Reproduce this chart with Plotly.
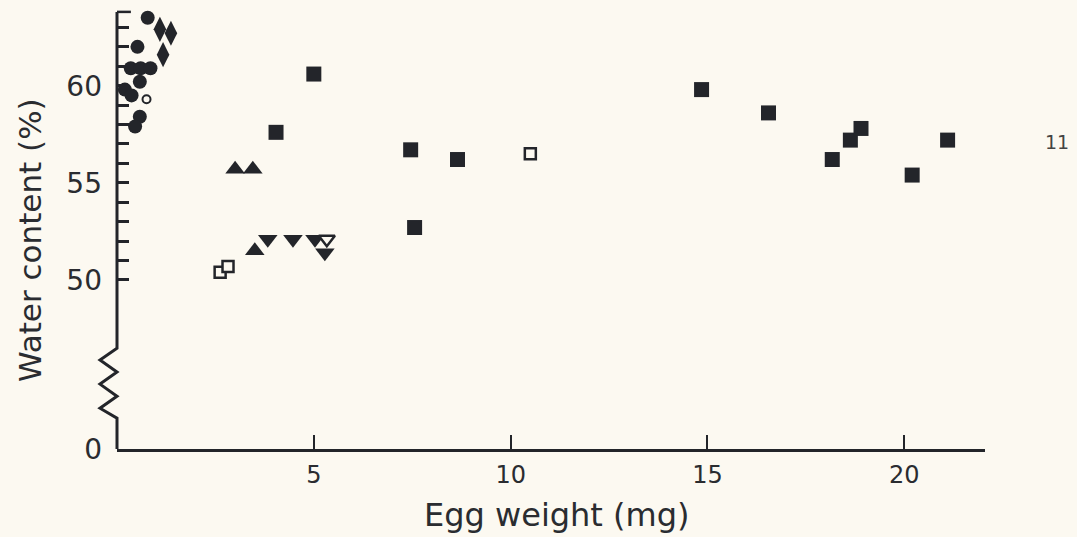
import plotly.graph_objects as go

# ---- data (egg weight mg, water content %) ----
circ_x = [0.78, 0.52, 0.35, 0.60, 0.85, 0.58, 0.20, 0.37, 0.58, 0.46]
circ_y = [63.5, 62.0, 60.9, 60.9, 60.9, 60.2, 59.8, 59.5, 58.4, 57.9]
circo_x = [0.75]
circo_y = [59.3]
diam_x = [1.09, 1.37, 1.17]
diam_y = [62.9, 62.7, 61.6]
triu_x = [3.00, 3.45, 3.50]
triu_y = [55.7, 55.7, 51.5]
trid_x = [3.83, 4.47, 5.03, 5.28]
trid_y = [52.1, 52.1, 52.1, 51.4]
trido_x = [5.33]
trido_y = [52.1]
sq_x = [5.00, 4.04, 7.46, 8.65, 7.56, 14.85, 16.55, 18.17, 18.63, 18.90, 20.20, 21.10]
sq_y = [60.6, 57.6, 56.7, 56.2, 52.7, 59.8, 58.6, 56.2, 57.2, 57.8, 55.4, 57.2]
sqo_x = [2.62, 2.82, 10.50]
sqo_y = [50.4, 50.7, 56.5]

y_ticks = [41.3, 50, 51, 52, 53, 54, 55, 56, 57, 58, 59, 60, 61, 62, 63]
y_labels = ["0", "50", "", "", "", "", "55", "", "", "", "", "60", "", "", ""]
x_ticks = [5, 10, 15, 20]
x_labels = ["5", "10", "15", "20"]

INK = "#23252a"
BG = "#fcf9f1"
TXT = "#2a2c30"

fig = go.Figure()

def add(x, y, symbol, size, filled=True, lw=0):
    fig.add_trace(go.Scatter(
        x=x, y=y, mode="markers", showlegend=False,
        marker=dict(symbol=symbol, size=size,
                    color=INK if filled else BG,
                    line=dict(color=INK, width=lw))))

add(circ_x, circ_y, "circle", 14)
add(diam_x, diam_y, "diamond-tall", 18)
add(triu_x, triu_y, "triangle-up", 17)
add(trid_x, trid_y, "triangle-down", 17)
add(trido_x, trido_y, "triangle-down", 14, filled=False, lw=2.5)
add(sq_x, sq_y, "square", 15)
add(sqo_x, sqo_y, "square", 11, filled=False, lw=2.5)
add(circo_x, circo_y, "circle", 8, filled=False, lw=2)

# y axis line with break (zigzag)
zx_l = -17 / 868
path = (f"M 0,63.8 L 0,46.49 L {zx_l},45.88 L 0,45.26 L {zx_l},44.64 "
        f"L 0,44.02 L {zx_l},43.40 L 0,42.89 L 0,41.25")
fig.add_shape(type="path", path=path, xref="paper", yref="y",
              line=dict(color=INK, width=3))
fig.add_shape(type="line", xref="paper", yref="y", x0=0, x1=0.016,
              y0=63.8, y1=63.8, line=dict(color=INK, width=2.5))

fig.update_layout(
    width=1077, height=537,
    margin=dict(l=117, r=92, t=8, b=88),
    paper_bgcolor=BG, plot_bgcolor=BG,
    font=dict(family="DejaVu Sans", color=TXT),
    xaxis=dict(range=[0, 22.05], showgrid=False, zeroline=False,
               showline=True, linecolor=INK, linewidth=3,
               tickmode="array", tickvals=x_ticks, ticktext=x_labels,
               ticks="inside", ticklen=14, tickwidth=2, tickcolor=INK,
               ticklabelstandoff=2,
               tickfont=dict(size=24, family="DejaVu Sans", color=TXT)),
    yaxis=dict(range=[41.3, 64.0], showgrid=False, zeroline=False,
               showline=False,
               tickmode="array", tickvals=y_ticks, ticktext=y_labels,
               ticks="inside", ticklen=12, tickwidth=2.5, tickcolor=INK,
               ticklabelstandoff=14,
               tickfont=dict(size=28, family="DejaVu Sans", color=TXT)),
    annotations=[
        dict(text="Water content (%)", textangle=-90, xref="paper", yref="y",
             x=(30 - 117) / 868, y=52.06, xanchor="center", yanchor="middle",
             showarrow=False,
             font=dict(size=31, family="DejaVu Sans", color=TXT)),
        dict(text="Egg weight (mg)", xref="x", yref="paper",
             x=11.18, y=-(515 - 449) / 441, xanchor="center", yanchor="middle",
             showarrow=False,
             font=dict(size=32, family="DejaVu Sans", color=TXT)),
        dict(text="11", xref="paper", yref="y", x=1.083, y=57.1,
             xanchor="center", yanchor="middle",
             showarrow=False, font=dict(size=19, family="DejaVu Sans", color="#444444")),
    ],
)

fig.write_html("out.html")
